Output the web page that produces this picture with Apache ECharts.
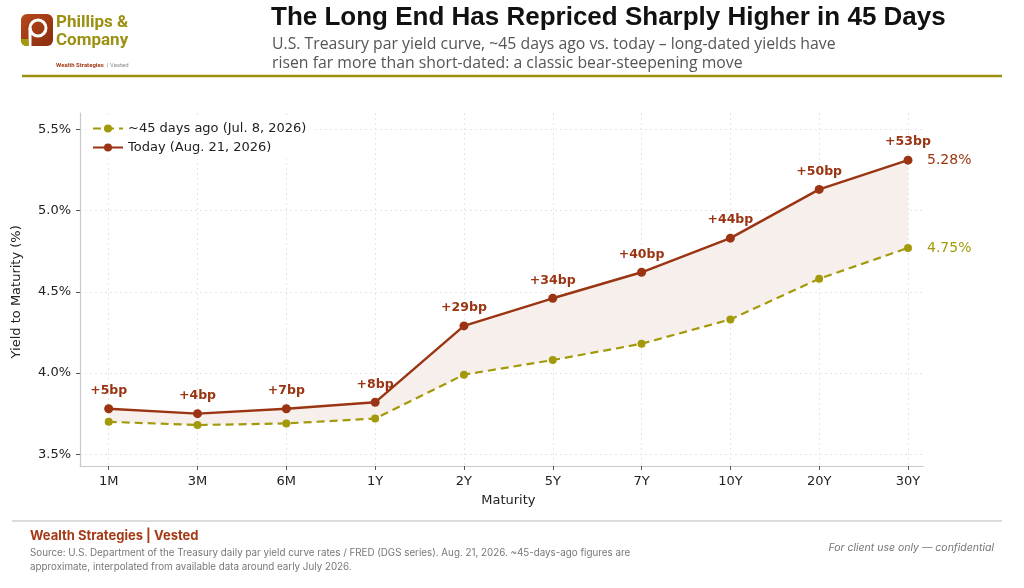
<!DOCTYPE html>
<html>
<head>
<meta charset="utf-8">
<script src="https://cdn.jsdelivr.net/npm/echarts@6/dist/echarts.min.js"></script>
<style>
  html, body { margin: 0; padding: 0; background: #fff; }
  #main { width: 1024px; height: 588px; }
</style>
</head>
<body>
<div id="main"></div>
<script>
// maturities on the x axis
var maturities = ['1M', '3M', '6M', '1Y', '2Y', '5Y', '7Y', '10Y', '20Y', '30Y'];
// yields (%)
var yieldsAgo = [3.70, 3.68, 3.69, 3.72, 3.99, 4.08, 4.18, 4.33, 4.58, 4.77];
var yieldsToday = [3.78, 3.75, 3.78, 3.82, 4.29, 4.46, 4.62, 4.83, 5.13, 5.31];
// change labels printed above each point of today's curve
var bpLabels = ['+5bp', '+4bp', '+7bp', '+8bp', '+29bp', '+34bp', '+40bp', '+44bp', '+50bp', '+53bp'];
// end labels at 30Y
var endAgo = '4.75%';
var endToday = '5.28%';
var yTicks = [3.5, 4.0, 4.5, 5.0, 5.5];

var RED = '#9a3412';
var OLIVE = '#a39a0b';
var FONT = 'DejaVu Sans';

var band = [];
for (var i = 0; i < yieldsToday.length; i++) {
  band.push(+(yieldsToday[i] - yieldsAgo[i]).toFixed(4));
}

var myChart = echarts.init(document.getElementById('main'), null, { renderer: 'canvas' });

var option = {
  backgroundColor: '#fff',
  animation: false,
  textStyle: { fontFamily: FONT },
  grid: [
    // frame (spines)
    { left: 80, top: 113, width: 843, height: 353 },
    // series
    { left: 108.7, top: 113, width: 799.3, height: 353 },
    // y ticks + horizontal grid
    { left: 80, top: 129.3, width: 843, height: 325 }
  ],
  xAxis: [
    {
      gridIndex: 0, type: 'value', min: 0, max: 1,
      axisLine: { show: true, onZero: false, lineStyle: { color: '#c8c8c8', width: 1.2 } },
      axisTick: { show: false }, axisLabel: { show: false }, splitLine: { show: false }
    },
    {
      gridIndex: 1, type: 'category', data: maturities, boundaryGap: false,
      axisLine: { show: false },
      axisTick: { show: true, length: 4, alignWithLabel: true, lineStyle: { color: '#555' } },
      axisLabel: { color: '#222', fontSize: 13, margin: 9, fontFamily: FONT },
      splitLine: { show: true, lineStyle: { color: '#e0e0e0', type: [2, 3], width: 0.8 } },
      name: 'Maturity', nameLocation: 'middle', nameGap: 28,
      nameTextStyle: { color: '#222', fontSize: 13, fontFamily: FONT }
    },
    {
      gridIndex: 2, type: 'value', min: 0, max: 1, show: false
    }
  ],
  yAxis: [
    {
      gridIndex: 0, type: 'value', min: 0, max: 1,
      axisLine: { show: true, lineStyle: { color: '#c8c8c8', width: 1.2 } },
      axisTick: { show: false }, axisLabel: { show: false }, splitLine: { show: false }
    },
    {
      gridIndex: 1, type: 'value', min: 3.428, max: 5.6, show: false
    },
    {
      gridIndex: 2, type: 'value', min: yTicks[0], max: yTicks[yTicks.length - 1], interval: 0.5,
      axisLine: { show: false },
      axisTick: { show: true, length: 4, lineStyle: { color: '#555' } },
      axisLabel: {
        color: '#222', fontSize: 13, margin: 9, fontFamily: FONT,
        formatter: function (v) { return v.toFixed(1) + '%'; }
      },
      splitLine: { show: true, lineStyle: { color: '#e0e0e0', type: [2, 3], width: 0.8 } },
      name: 'Yield to Maturity (%)', nameLocation: 'middle', nameGap: 57, nameRotate: 90,
      nameTextStyle: { color: '#222', fontSize: 13, fontFamily: FONT }
    }
  ],
  legend: {
    orient: 'vertical', left: 86, top: 117,
    padding: [5, 6], itemGap: 6, itemWidth: 30, itemHeight: 10,
    backgroundColor: '#fff',
    textStyle: { color: '#222', fontSize: 13, fontFamily: FONT },
    data: ['~45 days ago (Jul. 8, 2026)', 'Today (Aug. 21, 2026)']
  },
  series: [
    {
      name: 'base', type: 'line', xAxisIndex: 1, yAxisIndex: 1, stack: 'band',
      data: yieldsAgo, symbol: 'none', lineStyle: { opacity: 0 }, silent: true, z: 1
    },
    {
      name: 'band', type: 'line', xAxisIndex: 1, yAxisIndex: 1, stack: 'band',
      data: band, symbol: 'none', lineStyle: { opacity: 0 },
      areaStyle: { color: '#f7efeb', opacity: 1 }, silent: true, z: 1
    },
    {
      name: '~45 days ago (Jul. 8, 2026)', type: 'line', xAxisIndex: 1, yAxisIndex: 1,
      data: yieldsAgo, symbol: 'circle', symbolSize: 8,
      itemStyle: { color: OLIVE },
      lineStyle: { color: OLIVE, width: 2.2, type: [8, 5] },
      endLabel: {
        show: true, formatter: endAgo, distance: 19, color: OLIVE,
        fontSize: 14, fontFamily: FONT
      },
      z: 3
    },
    {
      name: 'Today (Aug. 21, 2026)', type: 'line', xAxisIndex: 1, yAxisIndex: 1,
      data: yieldsToday, symbol: 'circle', symbolSize: 9,
      itemStyle: { color: RED },
      lineStyle: { color: RED, width: 2.4 },
      label: {
        show: true, position: 'top', distance: 7, color: RED,
        fontSize: 12.5, fontWeight: 'bold', fontFamily: FONT,
        formatter: function (p) { return bpLabels[p.dataIndex]; }
      },
      endLabel: {
        show: true, formatter: endToday, distance: 19, color: RED,
        fontSize: 14, fontFamily: FONT
      },
      z: 4
    }
  ],
  graphic: [
    // logo mark
    {
      type: 'rect', left: 21, top: 14, shape: { width: 32, height: 32, r: 6 },
      style: {
        fill: new echarts.graphic.LinearGradient(0, 0, 1, 1, [
          { offset: 0, color: '#b54a1c' }, { offset: 1, color: '#8a2c0e' }
        ])
      }
    },
    {
      type: 'arc', shape: { cx: 38, cy: 28, r: 8, startAngle: 0, endAngle: Math.PI * 2 },
      style: { stroke: '#fff', lineWidth: 3, fill: 'none' }
    },
    {
      type: 'line', shape: { x1: 30, y1: 28, x2: 30, y2: 46 },
      style: { stroke: '#fff', lineWidth: 3 }
    },
    {
      type: 'rect', left: 21, top: 39, shape: { width: 7.5, height: 7, r: [0, 0, 0, 5] },
      style: { fill: OLIVE }
    },
    {
      type: 'text', left: 56, top: 14,
      style: { text: 'Phillips &', fill: '#9b9012', font: 'bold 17px Roboto, sans-serif' }
    },
    {
      type: 'text', left: 56, top: 32,
      style: { text: 'Company', fill: '#9b9012', font: 'bold 17px Roboto, sans-serif' }
    },
    {
      type: 'text', left: 56, top: 59,
      style: {
        text: '{a|Wealth Strategies} {b|| Vested}',
        rich: {
          a: { fill: '#a53a16', font: 'bold 6px Roboto, sans-serif' },
          b: { fill: '#888', font: '6px Roboto, sans-serif' }
        }
      }
    },
    // header
    {
      type: 'text', left: 271, top: 5,
      style: { text: 'The Long End Has Repriced Sharply Higher in 45 Days', fill: '#111', font: 'bold 26px "Liberation Sans", sans-serif' }
    },
    {
      type: 'text', left: 272, top: 35,
      style: {
        text: 'U.S. Treasury par yield curve, ~45 days ago vs. today \u2013 long-dated yields have\nrisen far more than short-dated: a classic bear-steepening move',
        fill: '#555', font: '15.8px "Open Sans", sans-serif', lineHeight: 19
      }
    },
    {
      type: 'line', shape: { x1: 22, y1: 76, x2: 1002, y2: 76 },
      style: { stroke: '#9b9012', lineWidth: 2.5 }
    },
    // footer
    {
      type: 'line', shape: { x1: 12, y1: 521, x2: 1002, y2: 521 },
      style: { stroke: '#dcdcdc', lineWidth: 2 }
    },
    {
      type: 'text', left: 30, top: 530,
      style: { text: 'Wealth Strategies | Vested', fill: '#a53a16', font: 'bold 13px Inter, sans-serif' }
    },
    {
      type: 'text', left: 30, top: 546,
      style: {
        text: 'Source: U.S. Department of the Treasury daily par yield curve rates / FRED (DGS series). Aug. 21, 2026. ~45-days-ago figures are\napproximate, interpolated from available data around early July 2026.',
        fill: '#777', font: '9.8px Inter, sans-serif', lineHeight: 14
      }
    },
    {
      type: 'text', right: 30, top: 542,
      style: { text: 'For client use only \u2014 confidential', fill: '#777', font: 'italic 10.5px Inter, sans-serif' }
    }
  ]
};

myChart.setOption(option);
</script>
</body>
</html>
